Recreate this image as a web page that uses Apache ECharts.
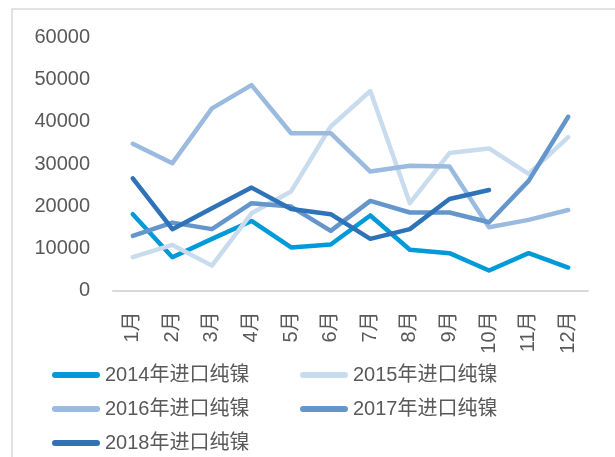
<!DOCTYPE html>
<html style="height: 100%">
   <head>
       <meta charset="utf-8">
   </head>
   <body style="height: 100%; margin: 0">
       <div id="container" style="height: 100%"></div>
       <script type="text/javascript" src="https://cdn.jsdelivr.net/npm/echarts@6/dist/echarts.min.js"></script>
       <script type="text/javascript">
var months = ['1月', '2月', '3月', '4月', '5月', '6月', '7月', '8月', '9月', '10月', '11月', '12月'];
var names = ['2014年进口纯镍', '2015年进口纯镍', '2016年进口纯镍', '2017年进口纯镍', '2018年进口纯镍'];
var colors = ['#009ad8', '#c9dcee', '#9abbdf', '#6496cc', '#2e72b8'];
var y2014 = [18100, 7900, 12250, 16500, 10200, 10900, 17800, 9650, 8850, 4750, 8850, 5450];
var y2015 = [7900, 10800, 5900, 18300, 23500, 38900, 47300, 20700, 32600, 33700, 27650, 36350];
var y2016 = [34800, 30200, 43200, 48700, 37300, 37300, 28200, 29600, 29400, 15000, 16750, 19100];
var y2017 = [12950, 16100, 14550, 20700, 19900, 14150, 21250, 18500, 18500, 16200, 26000, 41200];
var y2018 = [26600, 14550, 19500, 24400, 19350, 18100, 12250, 14550, 21700, 23850];

var dom = document.getElementById("container");
var myChart = echarts.init(dom);
var font = "'Liberation Sans', 'Noto Sans CJK SC', sans-serif";
var allData = [y2014, y2015, y2016, y2017, y2018];

var series = [];
for (var i = 0; i < names.length; i++) {
    series.push({
        name: names[i],
        type: 'line',
        data: allData[i],
        showSymbol: false,
        symbol: 'none',
        color: colors[i],
        lineStyle: { width: 4.5, cap: 'round', join: 'round' }
    });
}

var capsule = 'path://M3,0 L45,0 A3,3 0 0 1 45,6 L3,6 A3,3 0 0 1 3,0 Z';
var legendBase = {
    orient: 'vertical',
    top: 364,
    padding: 0,
    itemWidth: 48,
    itemHeight: 6,
    itemGap: 12,
    icon: capsule,
    textStyle: { fontSize: 20, color: '#595959', fontFamily: font, lineHeight: 22 }
};

var option = {
    animation: false,
    color: colors,
    graphic: [{
        type: 'rect',
        shape: { x: 12, y: 9, width: 700, height: 500 },
        style: { fill: 'none', stroke: '#d9d9d9', lineWidth: 1.5 },
        silent: true
    }],
    legend: [
        Object.assign({}, legendBase, { left: 52, data: [names[0], names[2], names[4]] }),
        Object.assign({}, legendBase, { left: 300, data: [names[1], names[3]] })
    ],
    grid: { left: 113, right: 27, top: 37.5, height: 253 },
    xAxis: {
        type: 'category',
        data: months,
        boundaryGap: true,
        axisLine: { lineStyle: { color: '#d9d9d9', width: 2 } },
        axisTick: { show: false },
        axisLabel: { rotate: 90, margin: 21, fontSize: 20, color: '#595959', fontFamily: font, interval: 0 }
    },
    yAxis: {
        type: 'value',
        min: 0,
        max: 60000,
        interval: 10000,
        axisLine: { show: false },
        axisTick: { show: false },
        splitLine: { show: false },
        axisLabel: {
            margin: 23, fontSize: 20, color: '#595959', fontFamily: font,
            formatter: function (v) { return String(v); }
        }
    },
    series: series
};

if (option && typeof option === "object") {
    myChart.setOption(option, true);
}
       </script>
   </body>
</html>
